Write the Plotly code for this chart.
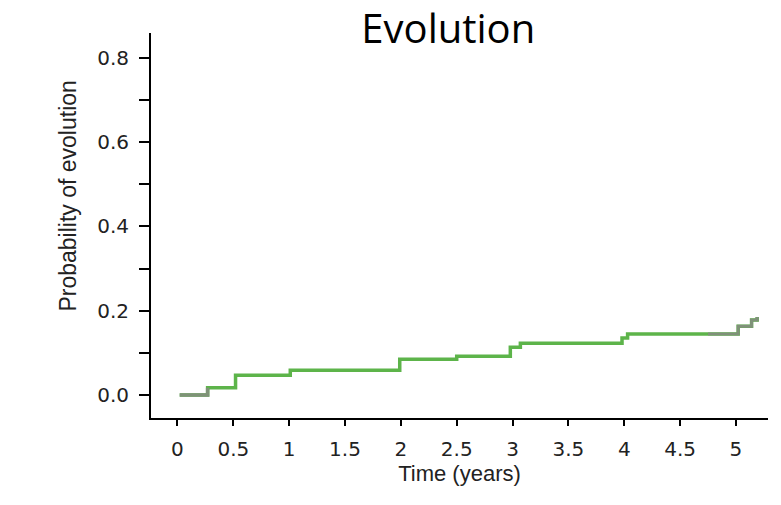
import plotly.graph_objects as go

title_text = "Evolution"
x_title = "Time (years)"
y_title = "Probability of evolution"

times = [0.02, 0.27, 0.52, 1.01, 1.99, 2.50, 2.98, 3.07, 3.98, 4.03, 5.02, 5.14, 5.19]
probs = [0.0, 0.017, 0.047, 0.059, 0.085, 0.092, 0.113, 0.123, 0.135, 0.145, 0.163, 0.178, 0.185]

x_ticks = [0, 0.5, 1, 1.5, 2, 2.5, 3, 3.5, 4, 4.5, 5]
x_ticklabels = ["0", "0.5", "1", "1.5", "2", "2.5", "3", "3.5", "4", "4.5", "5"]
y_ticks = [0.0, 0.2, 0.4, 0.6, 0.8]
y_ticklabels = ["0.0", "0.2", "0.4", "0.6", "0.8"]
y_minor = [0.1, 0.3, 0.5, 0.7]

tick_font = "DejaVu Sans, sans-serif"
title_font = "Liberation Sans, Arial, sans-serif"

fig = go.Figure()
fig.add_trace(go.Scatter(
    x=times, y=probs, mode="lines", line_shape="hv",
    line=dict(color="#5db44a", width=3.5), showlegend=False, hoverinfo="x+y"))
# greyish start and end segments as seen in the original scan
fig.add_trace(go.Scatter(
    x=times[:2], y=probs[:2], mode="lines", line_shape="hv",
    line=dict(color="#7f9278", width=3.5), showlegend=False, hoverinfo="skip"))
fig.add_trace(go.Scatter(
    x=[4.75] + times[10:], y=[probs[9]] + probs[10:], mode="lines", line_shape="hv",
    line=dict(color="#80917a", width=3), showlegend=False, hoverinfo="skip"))

fig.update_layout(
    width=781, height=505,
    margin=dict(l=151, r=13, t=33, b=87),
    paper_bgcolor="white", plot_bgcolor="white",
    title=dict(text=title_text, x=0.574, xanchor="center", y=0.942, yanchor="middle",
               font=dict(family="Open Sans, sans-serif", size=40, color="black")),
    xaxis=dict(
        range=[-0.237, 5.287], tickvals=x_ticks, ticktext=x_ticklabels,
        showgrid=False, zeroline=False, showline=True, linecolor="black", linewidth=2,
        ticks="outside", ticklen=6, tickwidth=2, tickcolor="black",
        tickfont=dict(family=tick_font, size=20, color="#222"),
        ticklabelstandoff=6,
        title=dict(text=x_title, font=dict(family=title_font, size=22, color="#222"), standoff=6),
    ),
    yaxis=dict(
        range=[-0.0546, 0.859], tickvals=y_ticks, ticktext=y_ticklabels,
        showgrid=False, zeroline=False, showline=True, linecolor="black", linewidth=2,
        ticks="outside", ticklen=10, tickwidth=2, tickcolor="black",
        tickfont=dict(family=tick_font, size=20, color="#222"),
        ticklabelstandoff=6,
        minor=dict(tickvals=y_minor, ticks="outside", ticklen=10, tickwidth=2, tickcolor="black"),
    ),
    annotations=[dict(
        text=y_title, xref="paper", yref="paper", x=-0.135, y=0.577,
        xanchor="center", yanchor="middle", textangle=-90, showarrow=False,
        font=dict(family=title_font, size=23, color="#222"))],
)

fig.write_html("out.html")
